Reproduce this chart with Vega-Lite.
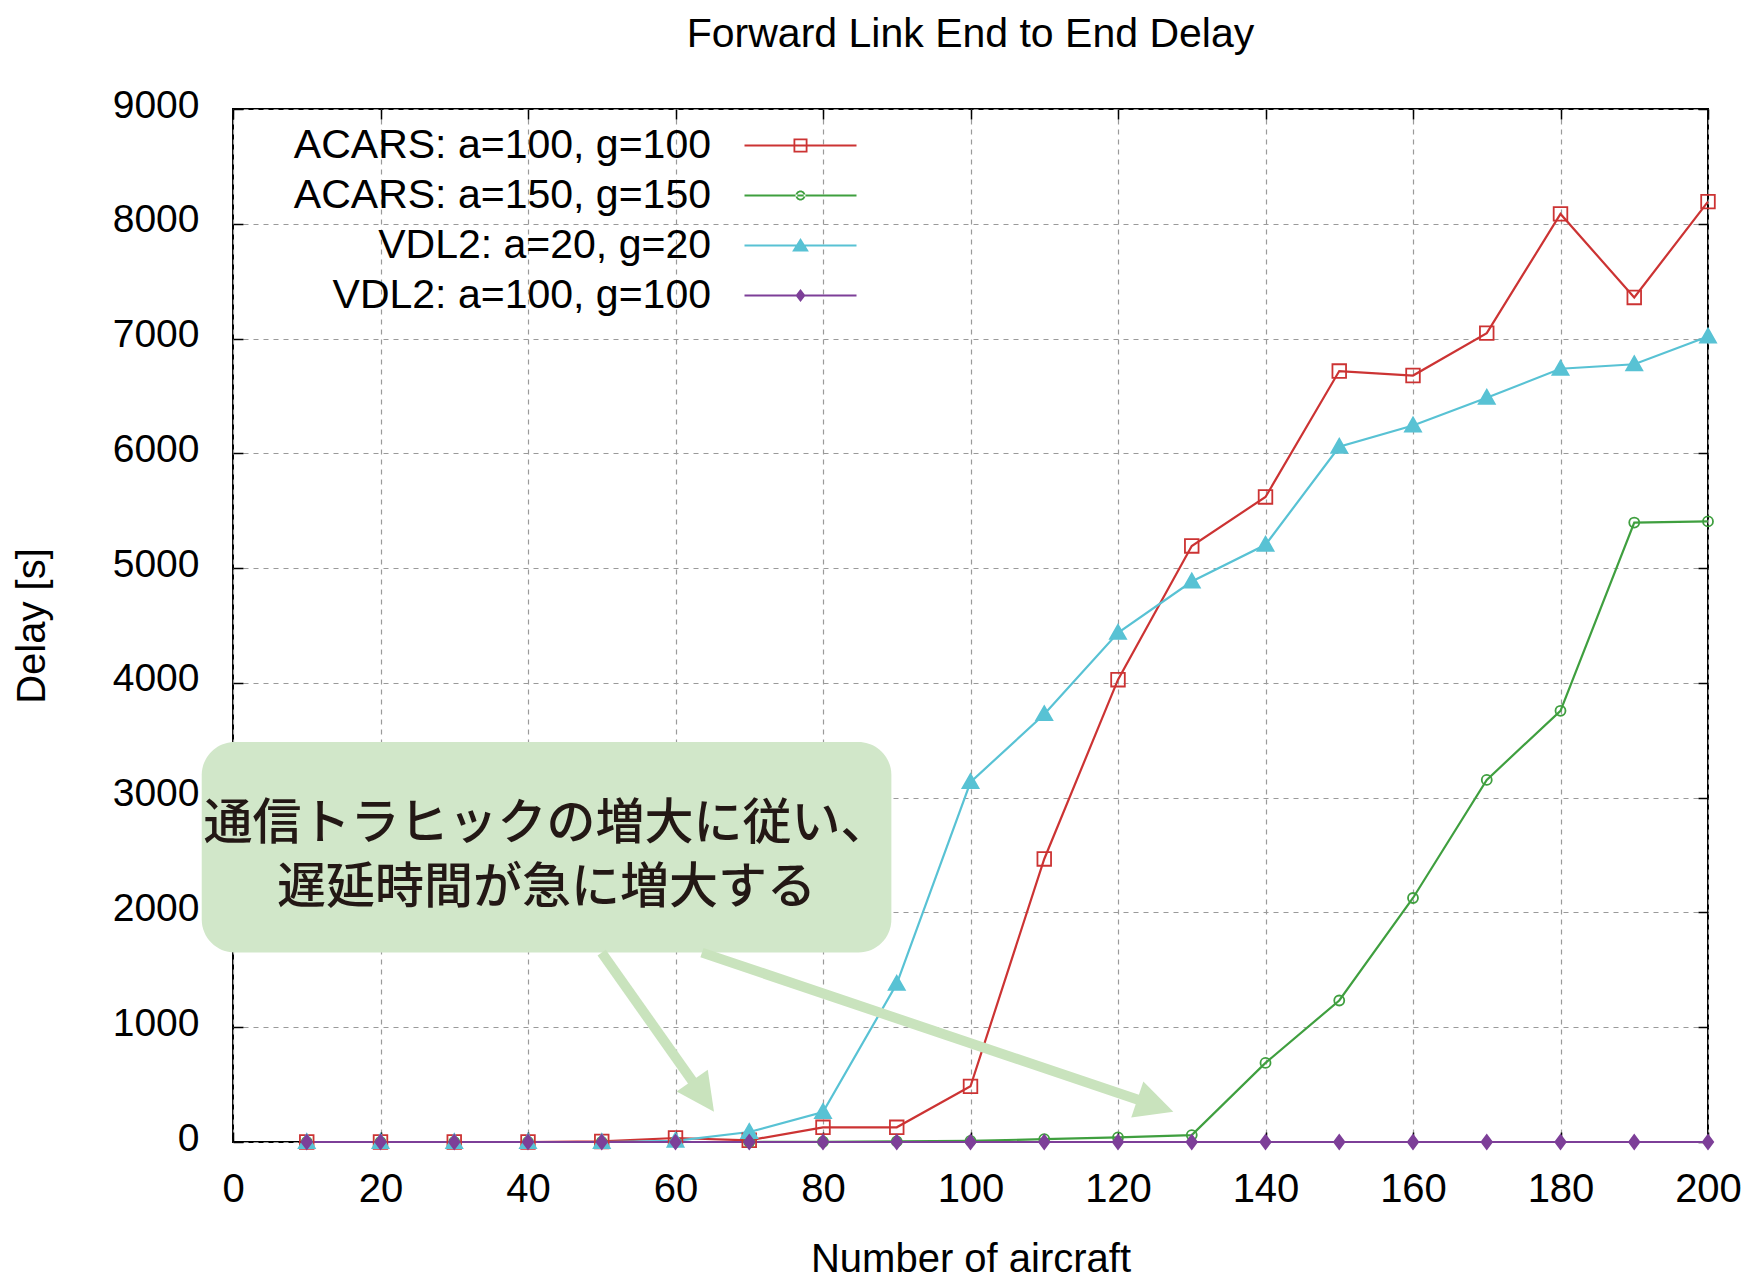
{
  "$schema": "https://vega.github.io/schema/vega-lite/v6.json",
  "width": 1475,
  "height": 1033,
  "autosize": {"type": "none"},
  "padding": {"left": 233, "top": 109, "right": 39, "bottom": 138},
  "background": "#ffffff",
  "title": {"text": "Forward Link End to End Delay", "font": "Liberation Sans", "fontSize": 41, "fontWeight": "normal", "color": "#000000", "anchor": "middle", "offset": 30},
  "config": {
    "font": "Liberation Sans",
    "view": {"stroke": "#000000", "strokeWidth": 2},
    "axis": {
      "labelFont": "Liberation Sans", "labelFontSize": 39, "labelColor": "#000000", "labelFlush": false,
      "titleFont": "Liberation Sans", "titleFontSize": 40, "titleFontWeight": "normal", "titleColor": "#000000",
      "tickColor": "#000000", "tickWidth": 1.5, "tickSize": -10, "domain": false,
      "gridColor": "#9a9a9a", "gridDash": [5, 5], "gridWidth": 1.2, "gridOpacity": 1
    }
  },
  "datasets": {
    "series": [
      {"series": "ACARS: a=100, g=100", "n": 10, "delay": 0},
      {"series": "ACARS: a=100, g=100", "n": 20, "delay": 0},
      {"series": "ACARS: a=100, g=100", "n": 30, "delay": 0},
      {"series": "ACARS: a=100, g=100", "n": 40, "delay": 0},
      {"series": "ACARS: a=100, g=100", "n": 50, "delay": 5},
      {"series": "ACARS: a=100, g=100", "n": 60, "delay": 35},
      {"series": "ACARS: a=100, g=100", "n": 70, "delay": 15},
      {"series": "ACARS: a=100, g=100", "n": 80, "delay": 128},
      {"series": "ACARS: a=100, g=100", "n": 90, "delay": 128},
      {"series": "ACARS: a=100, g=100", "n": 100, "delay": 485},
      {"series": "ACARS: a=100, g=100", "n": 110, "delay": 2466},
      {"series": "ACARS: a=100, g=100", "n": 120, "delay": 4028},
      {"series": "ACARS: a=100, g=100", "n": 130, "delay": 5193},
      {"series": "ACARS: a=100, g=100", "n": 140, "delay": 5620},
      {"series": "ACARS: a=100, g=100", "n": 150, "delay": 6717},
      {"series": "ACARS: a=100, g=100", "n": 160, "delay": 6678},
      {"series": "ACARS: a=100, g=100", "n": 170, "delay": 7047},
      {"series": "ACARS: a=100, g=100", "n": 180, "delay": 8086},
      {"series": "ACARS: a=100, g=100", "n": 190, "delay": 7358},
      {"series": "ACARS: a=100, g=100", "n": 200, "delay": 8193},
      {"series": "ACARS: a=150, g=150", "n": 10, "delay": 0},
      {"series": "ACARS: a=150, g=150", "n": 20, "delay": 0},
      {"series": "ACARS: a=150, g=150", "n": 30, "delay": 0},
      {"series": "ACARS: a=150, g=150", "n": 40, "delay": 0},
      {"series": "ACARS: a=150, g=150", "n": 50, "delay": 0},
      {"series": "ACARS: a=150, g=150", "n": 60, "delay": 0},
      {"series": "ACARS: a=150, g=150", "n": 70, "delay": 0},
      {"series": "ACARS: a=150, g=150", "n": 80, "delay": 2},
      {"series": "ACARS: a=150, g=150", "n": 90, "delay": 5},
      {"series": "ACARS: a=150, g=150", "n": 100, "delay": 10},
      {"series": "ACARS: a=150, g=150", "n": 110, "delay": 25},
      {"series": "ACARS: a=150, g=150", "n": 120, "delay": 40},
      {"series": "ACARS: a=150, g=150", "n": 130, "delay": 60},
      {"series": "ACARS: a=150, g=150", "n": 140, "delay": 689},
      {"series": "ACARS: a=150, g=150", "n": 150, "delay": 1233},
      {"series": "ACARS: a=150, g=150", "n": 160, "delay": 2126},
      {"series": "ACARS: a=150, g=150", "n": 170, "delay": 3155},
      {"series": "ACARS: a=150, g=150", "n": 180, "delay": 3757},
      {"series": "ACARS: a=150, g=150", "n": 190, "delay": 5397},
      {"series": "ACARS: a=150, g=150", "n": 200, "delay": 5407},
      {"series": "VDL2: a=20, g=20", "n": 10, "delay": 0},
      {"series": "VDL2: a=20, g=20", "n": 20, "delay": 0},
      {"series": "VDL2: a=20, g=20", "n": 30, "delay": 0},
      {"series": "VDL2: a=20, g=20", "n": 40, "delay": 0},
      {"series": "VDL2: a=20, g=20", "n": 50, "delay": 0},
      {"series": "VDL2: a=20, g=20", "n": 60, "delay": 10},
      {"series": "VDL2: a=20, g=20", "n": 70, "delay": 87},
      {"series": "VDL2: a=20, g=20", "n": 80, "delay": 261},
      {"series": "VDL2: a=20, g=20", "n": 90, "delay": 1378},
      {"series": "VDL2: a=20, g=20", "n": 100, "delay": 3135},
      {"series": "VDL2: a=20, g=20", "n": 110, "delay": 3727},
      {"series": "VDL2: a=20, g=20", "n": 120, "delay": 4436},
      {"series": "VDL2: a=20, g=20", "n": 130, "delay": 4883},
      {"series": "VDL2: a=20, g=20", "n": 140, "delay": 5203},
      {"series": "VDL2: a=20, g=20", "n": 150, "delay": 6057},
      {"series": "VDL2: a=20, g=20", "n": 160, "delay": 6242},
      {"series": "VDL2: a=20, g=20", "n": 170, "delay": 6484},
      {"series": "VDL2: a=20, g=20", "n": 180, "delay": 6737},
      {"series": "VDL2: a=20, g=20", "n": 190, "delay": 6776},
      {"series": "VDL2: a=20, g=20", "n": 200, "delay": 7018},
      {"series": "VDL2: a=100, g=100", "n": 10, "delay": 0},
      {"series": "VDL2: a=100, g=100", "n": 20, "delay": 0},
      {"series": "VDL2: a=100, g=100", "n": 30, "delay": 0},
      {"series": "VDL2: a=100, g=100", "n": 40, "delay": 0},
      {"series": "VDL2: a=100, g=100", "n": 50, "delay": 0},
      {"series": "VDL2: a=100, g=100", "n": 60, "delay": 0},
      {"series": "VDL2: a=100, g=100", "n": 70, "delay": 0},
      {"series": "VDL2: a=100, g=100", "n": 80, "delay": 0},
      {"series": "VDL2: a=100, g=100", "n": 90, "delay": 0},
      {"series": "VDL2: a=100, g=100", "n": 100, "delay": 0},
      {"series": "VDL2: a=100, g=100", "n": 110, "delay": 0},
      {"series": "VDL2: a=100, g=100", "n": 120, "delay": 0},
      {"series": "VDL2: a=100, g=100", "n": 130, "delay": 0},
      {"series": "VDL2: a=100, g=100", "n": 140, "delay": 0},
      {"series": "VDL2: a=100, g=100", "n": 150, "delay": 0},
      {"series": "VDL2: a=100, g=100", "n": 160, "delay": 0},
      {"series": "VDL2: a=100, g=100", "n": 170, "delay": 0},
      {"series": "VDL2: a=100, g=100", "n": 180, "delay": 0},
      {"series": "VDL2: a=100, g=100", "n": 190, "delay": 0},
      {"series": "VDL2: a=100, g=100", "n": 200, "delay": 0}
    ],
    "box": [{"n": -4.24, "n2": 89.27, "delay": 3485, "delay2": 1650, "label": "通信トラヒックの増大に従い、\n遅延時間が急に増大する", "cn": 42.5, "cd": 2770}],
    "shafts": [
      {"n": 49.99, "delay": 1650, "n2": 62.56, "delay2": 506},
      {"n": 63.59, "delay": 1650, "n2": 123.13, "delay2": 359}
    ],
    "head1": [{"n": 65.22, "delay": 264}],
    "head2": [{"n": 127.5, "delay": 264}]
  },
  "resolve": {"scale": {"shape": "independent", "fill": "independent"}, "axis": {"x": "independent", "y": "independent"}},
  "layer": [
    {
      "data": {"name": "series"},
      "mark": {"type": "line", "strokeWidth": 2.2},
      "encoding": {
        "x": {"field": "n", "type": "quantitative", "scale": {"domain": [0, 200], "nice": false, "zero": false},
              "axis": {"orient": "bottom", "values": [0, 20, 40, 60, 80, 100, 120, 140, 160, 180, 200], "grid": true, "labelFontSize": 40, "labelPadding": 37, "title": "Number of aircraft", "titlePadding": 30}},
        "y": {"field": "delay", "type": "quantitative", "scale": {"domain": [0, 9000], "nice": false},
              "axis": {"orient": "left", "values": [0, 1000, 2000, 3000, 4000, 5000, 6000, 7000, 8000, 9000], "format": "d", "grid": true, "labelPadding": 44, "labelOffset": -4, "title": "Delay [s]", "titlePadding": 60}},
        "stroke": {"field": "series", "type": "nominal",
                   "scale": {"domain": ["ACARS: a=100, g=100", "ACARS: a=150, g=150", "VDL2: a=20, g=20", "VDL2: a=100, g=100"], "range": ["#cc3333", "#3f9f3f", "#58c2d4", "#7d3f98"]},
                   "legend": null}
      }
    },
    {
      "data": {"name": "series"},
      "mark": {"type": "point", "size": 400, "strokeWidth": 1.8, "opacity": 1},
      "encoding": {
        "x": {"field": "n", "type": "quantitative", "scale": {"domain": [0, 200], "nice": false, "zero": false},
              "axis": {"orient": "top", "values": [0, 20, 40, 60, 80, 100, 120, 140, 160, 180, 200], "grid": false, "labels": false, "title": null}},
        "y": {"field": "delay", "type": "quantitative", "scale": {"domain": [0, 9000], "nice": false},
              "axis": {"orient": "right", "values": [0, 1000, 2000, 3000, 4000, 5000, 6000, 7000, 8000, 9000], "grid": false, "labels": false, "title": null}},
        "stroke": {"field": "series", "type": "nominal",
                   "scale": {"domain": ["ACARS: a=100, g=100", "ACARS: a=150, g=150", "VDL2: a=20, g=20", "VDL2: a=100, g=100"], "range": ["#cc3333", "#3f9f3f", "#58c2d4", "#7d3f98"]},
                   "legend": null},
        "fill": {"field": "series", "type": "nominal",
                 "scale": {"domain": ["ACARS: a=100, g=100", "ACARS: a=150, g=150", "VDL2: a=20, g=20", "VDL2: a=100, g=100"], "range": ["rgba(255,255,255,0)", "rgba(255,255,255,0)", "#58c2d4", "#7d3f98"]},
                 "legend": null},
        "shape": {"field": "series", "type": "nominal",
                  "scale": {"domain": ["ACARS: a=100, g=100", "ACARS: a=150, g=150", "VDL2: a=20, g=20", "VDL2: a=100, g=100"],
                            "range": ["M-0.68,-0.68H0.68V0.68H-0.68Z", "M-0.5,0A0.5,0.5 0 1,0 0.5,0A0.5,0.5 0 1,0 -0.5,0Z", "M0,-0.8L0.8,0.6L-0.8,0.6Z", "M0,-0.7L0.52,0L0,0.7L-0.52,0Z"]},
                  "legend": null}
      }
    },
    {
      "data": {"name": "series"},
      "transform": [{"filter": "datum.delay < 0"}],
      "mark": {"type": "point", "filled": true, "opacity": 1},
      "encoding": {
        "x": {"field": "n", "type": "quantitative", "scale": {"domain": [0, 200], "nice": false, "zero": false}, "axis": null},
        "y": {"field": "delay", "type": "quantitative", "scale": {"domain": [0, 9000], "nice": false}, "axis": null},
        "fill": {"field": "series", "type": "nominal",
                 "scale": {"domain": ["ACARS: a=100, g=100", "ACARS: a=150, g=150", "VDL2: a=20, g=20", "VDL2: a=100, g=100"], "range": ["#cc3333", "#3f9f3f", "#58c2d4", "#7d3f98"]},
                 "legend": {"orient": "none", "legendX": 547, "legendY": 16, "title": null, "symbolSize": 1600, "symbolStrokeWidth": 0, "rowPadding": 8, "padding": 0, "labelFont": "Liberation Sans", "labelFontSize": 41, "labelColor": "#000000", "labelAlign": "right", "labelOffset": -110, "labelLimit": 900, "symbolOpacity": 1}},
        "shape": {"field": "series", "type": "nominal",
                  "scale": {"domain": ["ACARS: a=100, g=100", "ACARS: a=150, g=150", "VDL2: a=20, g=20", "VDL2: a=100, g=100"],
                            "range": [
                              "M-2.8,-0.05H2.8V0.05H-2.8ZM-0.35,-0.35H0.35V0.35H-0.35ZM-0.26,-0.26V0.26H0.26V-0.26Z",
                              "M-2.8,-0.05H2.8V0.05H-2.8ZM-0.25,0A0.25,0.25 0 1,0 0.25,0A0.25,0.25 0 1,0 -0.25,0ZM-0.16,0A0.16,0.16 0 1,1 0.16,0A0.16,0.16 0 1,1 -0.16,0Z",
                              "M-2.8,-0.05H2.8V0.05H-2.8ZM0,-0.38L0.42,0.3L-0.42,0.3Z",
                              "M-2.8,-0.05H2.8V0.05H-2.8ZM0,-0.32L0.25,0L0,0.32L-0.25,0Z"
                            ]},
                  "legend": {"orient": "none", "legendX": 547, "legendY": 16, "title": null, "symbolSize": 1600, "symbolStrokeWidth": 0, "rowPadding": 8, "padding": 0, "labelFont": "Liberation Sans", "labelFontSize": 41, "labelColor": "#000000", "labelAlign": "right", "labelOffset": -110, "labelLimit": 900, "symbolOpacity": 1}}
      }
    },
    {
      "data": {"name": "box"},
      "mark": {"type": "rect", "fill": "#d1e7c9", "cornerRadius": 33},
      "encoding": {
        "x": {"field": "n", "type": "quantitative", "scale": {"domain": [0, 200], "nice": false, "zero": false}, "axis": null},
        "x2": {"field": "n2"},
        "y": {"field": "delay", "type": "quantitative", "scale": {"domain": [0, 9000], "nice": false}, "axis": null},
        "y2": {"field": "delay2"}
      }
    },
    {
      "data": {"name": "box"},
      "mark": {"type": "text", "font": "Noto Sans CJK JP", "fontSize": 49, "fontWeight": 500, "lineHeight": 64, "lineBreak": "\n", "align": "center", "baseline": "middle", "color": "#231815"},
      "encoding": {
        "x": {"field": "cn", "type": "quantitative", "scale": {"domain": [0, 200], "nice": false, "zero": false}, "axis": null},
        "y": {"field": "cd", "type": "quantitative", "scale": {"domain": [0, 9000], "nice": false}, "axis": null},
        "text": {"field": "label"}
      }
    },
    {
      "data": {"name": "shafts"},
      "mark": {"type": "rule", "stroke": "#c9e3bd", "strokeWidth": 10, "strokeCap": "butt"},
      "encoding": {
        "x": {"field": "n", "type": "quantitative", "scale": {"domain": [0, 200], "nice": false, "zero": false}, "axis": null},
        "x2": {"field": "n2"},
        "y": {"field": "delay", "type": "quantitative", "scale": {"domain": [0, 9000], "nice": false}, "axis": null},
        "y2": {"field": "delay2"}
      }
    },
    {
      "data": {"name": "head1"},
      "mark": {"type": "point", "shape": "M0,0L1,2L-1,2Z", "size": 1444, "angle": 145, "filled": true, "fill": "#c9e3bd", "strokeWidth": 0, "opacity": 1},
      "encoding": {
        "x": {"field": "n", "type": "quantitative", "scale": {"domain": [0, 200], "nice": false, "zero": false}, "axis": null},
        "y": {"field": "delay", "type": "quantitative", "scale": {"domain": [0, 9000], "nice": false}, "axis": null}
      }
    },
    {
      "data": {"name": "head2"},
      "mark": {"type": "point", "shape": "M0,0L1,2L-1,2Z", "size": 1444, "angle": 108.6, "filled": true, "fill": "#c9e3bd", "strokeWidth": 0, "opacity": 1},
      "encoding": {
        "x": {"field": "n", "type": "quantitative", "scale": {"domain": [0, 200], "nice": false, "zero": false}, "axis": null},
        "y": {"field": "delay", "type": "quantitative", "scale": {"domain": [0, 9000], "nice": false}, "axis": null}
      }
    }
  ]
}
